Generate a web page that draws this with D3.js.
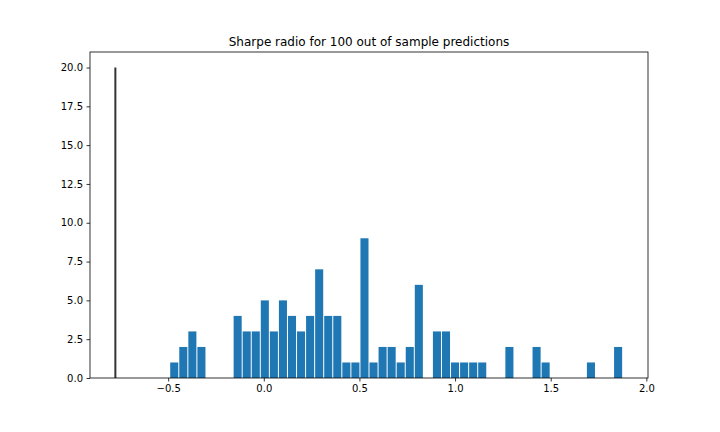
<!DOCTYPE html>
<html>
<head>
<meta charset="utf-8">
<script src="https://cdn.jsdelivr.net/npm/d3@7"></script>
<style>
  body { margin: 0; background: #fff; }
  svg { display: block; font-family: "DejaVu Sans", sans-serif; }
</style>
</head>
<body>
<div id="chart"></div>
<script>
// histogram: 56 equal bins between binRange[0] and binRange[1]
const binRange = [-0.776, 1.876];
const binCount = 56;
const counts = [
  0, 0, 0, 0, 0, 0, 1, 2, 3, 2,
  0, 0, 0, 4, 3, 3, 5, 3, 5, 4,
  3, 4, 7, 4, 4, 1, 1, 9, 1, 2,
  2, 1, 2, 6, 0, 3, 3, 1, 1, 1,
  1, 0, 0, 2, 0, 0, 2, 1, 0, 0,
  0, 0, 1, 0, 0, 2
];
// thin dark spike at the left end
const spikeX = -0.776;
const spikeHeight = 20;

const xTicks = [-0.5, 0.0, 0.5, 1.0, 1.5, 2.0];
const yTicks = [0, 2.5, 5, 7.5, 10, 12.5, 15, 17.5, 20];
const title = "Sharpe radio for 100 out of sample predictions";

const width = 720, height = 432;
const margin = { top: 52, right: 72, bottom: 54, left: 90 };

const binWidth = (binRange[1] - binRange[0]) / binCount;
const bins = counts.map((c, i) => ({
  x0: binRange[0] + i * binWidth,
  x1: binRange[0] + (i + 1) * binWidth,
  count: c,
}));

const pad = (binRange[1] - binRange[0]) * 0.05;

const svg = d3.select("#chart")
  .append("svg")
  .attr("width", width)
  .attr("height", height);

const x = d3.scaleLinear()
  .domain([binRange[0] - pad, binRange[1] + pad])
  .range([margin.left, width - margin.right]);

const y = d3.scaleLinear()
  .domain([0, 21])
  .range([height - margin.bottom, margin.top]);

// bars
svg.append("g")
  .selectAll("rect")
  .data(bins.filter((d) => d.count > 0))
  .join("rect")
  .attr("x", (d) => x(d.x0) + 0.5)
  .attr("y", (d) => y(d.count))
  .attr("width", (d) => x(d.x1) - x(d.x0) - 1)
  .attr("height", (d) => y(0) - y(d.count))
  .attr("fill", "#1f77b4");

// spike
svg.append("line")
  .attr("x1", x(spikeX))
  .attr("x2", x(spikeX))
  .attr("y1", y(0))
  .attr("y2", y(spikeHeight))
  .attr("stroke", "#333")
  .attr("stroke-width", 2);

// axes
const fmt = d3.format(".1f");

const xAxis = svg.append("g")
  .attr("transform", `translate(0, ${height - margin.bottom})`)
  .call(d3.axisBottom(x).tickValues(xTicks).tickFormat(fmt).tickSizeInner(3.5).tickSizeOuter(0).tickPadding(3.5));

const yAxis = svg.append("g")
  .attr("transform", `translate(${margin.left}, 0)`)
  .call(d3.axisLeft(y).tickValues(yTicks).tickFormat(fmt).tickSizeInner(3.5).tickSizeOuter(0).tickPadding(3.5));

[xAxis, yAxis].forEach((g) => {
  g.select(".domain").remove();
  g.selectAll(".tick line").attr("stroke", "#000").attr("stroke-width", 0.8);
  g.selectAll(".tick text")
    .attr("fill", "#000")
    .attr("font-size", "10px")
    .attr("font-family", "DejaVu Sans, sans-serif");
});

// frame
svg.append("rect")
  .attr("x", margin.left)
  .attr("y", margin.top)
  .attr("width", width - margin.left - margin.right)
  .attr("height", height - margin.top - margin.bottom)
  .attr("fill", "none")
  .attr("stroke", "#000")
  .attr("stroke-width", 0.8);

svg.append("text")
  .attr("x", (margin.left + width - margin.right) / 2)
  .attr("y", margin.top - 6)
  .attr("text-anchor", "middle")
  .attr("font-size", "12px")
  .attr("fill", "#000")
  .text(title);
</script>
</body>
</html>
